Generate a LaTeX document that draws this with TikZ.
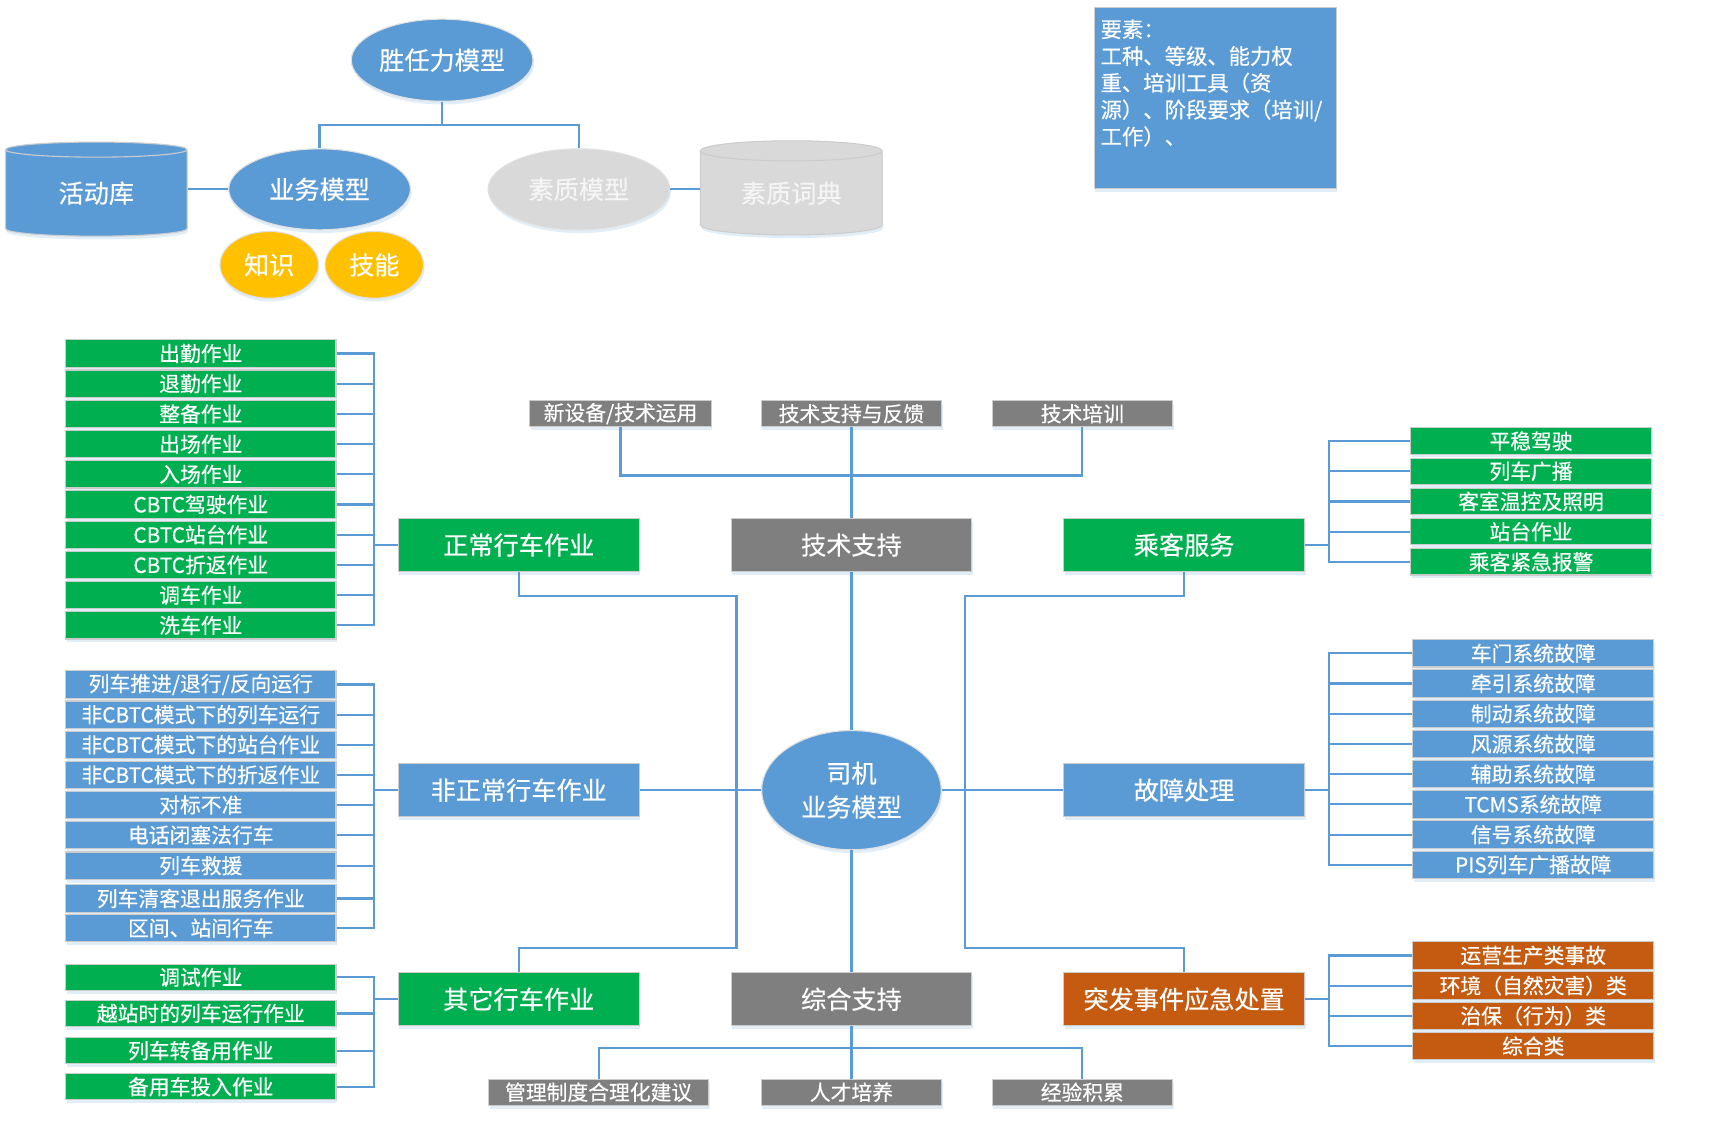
\documentclass[tikz,border=0pt]{standalone}
\usepackage{fontspec}
\setmainfont{Noto Sans CJK SC}[FakeBold=0.4]
\usetikzlibrary{shapes.geometric,shadows}
\definecolor{mblue}{HTML}{5B9BD5}
\definecolor{mgreen}{HTML}{00B050}
\definecolor{mgray}{HTML}{7F7F7F}
\definecolor{morange}{HTML}{C55A11}
\definecolor{myellow}{HTML}{FFC000}
\definecolor{mlight}{HTML}{D9D9D9}
\tikzset{
  shade/.style={drop shadow={shadow xshift=1pt,shadow yshift=-3pt,opacity=0.18,fill=mblue}},
  box/.style={draw=black!20,line width=1pt,text=white,inner sep=0pt,shade},
  item/.style={box,minimum width=247pt,minimum height=25pt,font=\fontsize{19}{19}\selectfont},
  ritem/.style={item,minimum width=220pt},
  head/.style={box,minimum width=220pt,minimum height=48pt,font=\fontsize{23}{23}\selectfont},
  tip/.style={box,fill=mgray,minimum width=165pt,minimum height=24pt,font=\fontsize{19}{19}\selectfont},
  blob/.style={ellipse,draw=black!12,line width=1pt,text=white,inner sep=0pt,shade,font=\fontsize{23}{23}\selectfont},
  drum/.style={cylinder,shape border rotate=90,aspect=0.2,draw=black!20,line width=1pt,text=white,inner sep=0pt,
    minimum height=86pt,minimum width=166pt,shade,font=\fontsize{23}{23}\selectfont},
  link/.style={draw=mblue,line width=2pt},
}
\begin{document}
\begin{tikzpicture}[x=1pt,y=-1pt]
            \useasboundingbox (0,0) rectangle (1568,1029);
            % competence model
            \node[blob,fill=mblue,minimum width=166pt,minimum height=75pt] (shengren) at (404,55) {胜任力模型};
            \node[blob,fill=mblue,minimum width=166pt,minimum height=74pt] (yewu) at (292,173) {业务模型};
            \node[blob,fill=mlight,text=white!96!black,minimum width=166pt,minimum height=74pt] (suzhi) at (529,173) {素质模型};
            \node[drum,fill=mblue] (huodong) at (88,176.5) {活动库};
            \node[drum,fill=mlight,text=white!96!black] (cidian) at (723,176.5) {素质词典};
            \node[blob,fill=myellow,minimum width=90pt,minimum height=61pt] (zhishi) at (246,242) {知识};
            \node[blob,fill=myellow,minimum width=90pt,minimum height=61pt] (jineng) at (342,242) {技能};
            \draw[link] (shengren.south) -- ++(0,21) -| (yewu.north);
            \draw[link] (shengren.south) -- ++(0,21) -| (suzhi.north);
            \draw[link] (yewu.west) -- (yewu.west -| huodong.east);
            \draw[link] (suzhi.east) -- (suzhi.east -| cidian.west);

            \node[box,fill=mblue,minimum width=221pt,minimum height=165pt] (yaosu) at (1110.5,89.5) {};
            \node[anchor=north west,text=white,align=left,inner sep=0pt,font=\fontsize{19.5}{24.5}\selectfont] (yaosutext)
                at ([shift={(6,11)}]yaosu.north west) {要素：\\工种、等级、能力权\\重、培训工具（资\\源）、阶段要求（培训/\\工作）、};

            % driver business model
            \node[head,fill=mgreen] (zhengchang) at (474,498) {正常行车作业};
            \node[head,fill=mgray] (jishu) at (778,498) {技术支持};
            \node[head,fill=mgreen] (chengke) at (1082,498) {乘客服务};
            \node[head,fill=mblue] (feizheng) at (474,722) {非正常行车作业};
            \node[blob,fill=mblue,minimum width=164pt,minimum height=109pt,align=center,font=\fontsize{23}{31}\selectfont] (siji) at (778,722) {司机\\业务模型};
            \node[head,fill=mblue] (guzhang) at (1082,722) {故障处理};
            \node[head,fill=mgreen] (qita) at (474,913) {其它行车作业};
            \node[head,fill=mgray] (zonghe) at (778,913) {综合支持};
            \node[head,fill=morange] (tufa) at (1082,913) {突发事件应急处置};

            \node[tip,minimum width=166pt] (xinshebei) at (567,378) {新设备/技术运用};
            \node[tip] (fankui) at (778,378) {技术支持与反馈};
            \node[tip] (peixun) at (989,378) {技术培训};
            \node[tip,minimum width=201pt] (guanli) at (547,998) {管理制度合理化建议};
            \node[tip] (rencai) at (778,998) {人才培养};
            \node[tip] (jingyan) at (989,998) {经验积累};

            \draw[link] (fankui.south) -- (jishu.north);
            \draw[link] (xinshebei.south) -- ++(0,44) -| (peixun.south);
            \draw[link] (zonghe.south) -- (rencai.north);
            \draw[link] (guanli.north) -- ++(0,-28) -| (jingyan.north);
            \draw[link] (siji.north) -- (jishu.south);
            \draw[link] (siji.south) -- (zonghe.north);
            \draw[link] (feizheng.east) -- (siji.west);
            \draw[link] (siji.east) -- (guzhang.west);
            \draw[link] (zhengchang.south) -- ++(0,22) -| ++(199,322) -| (qita.north);
            \draw[link] (chengke.south) -- ++(0,22) -| ++(-200,322) -| (tufa.north);

            \foreach \t [count=\i] in {出勤作业,退勤作业,整备作业,出场作业,入场作业,CBTC驾驶作业,CBTC站台作业,CBTC折返作业,调车作业,洗车作业}{
                \node[item,fill=mgreen] (zc\i) at (183.5,{323+27.6*(\i-1)}) {\t};
                \draw[link] (zc\i.east) -| ([xshift=-22pt]zhengchang.west) -- (zhengchang.west);
            }
            \foreach \y/\t [count=\i] in {625.5/{列车推进/退行/反向运行},653/非CBTC模式下的列车运行,680.5/非CBTC模式下的站台作业,708/非CBTC模式下的折返作业,735.5/对标不准,763/电话闭塞法行车,791/列车救援,821/列车清客退出服务作业,848/区间、站间行车}{
                \node[item,fill=mblue] (fz\i) at (183.5,\y) {\t};
                \draw[link] (fz\i.east) -| ([xshift=-22pt]feizheng.west) -- (feizheng.west);
            }
            \foreach \y/\t [count=\i] in {893/调试作业,926/越站时的列车运行作业,960/列车转备用作业,993/备用车投入作业}{
                \node[item,fill=mgreen,minimum height=24pt] (qt\i) at (183.5,\y) {\t};
                \draw[link] (qt\i.east) -| ([xshift=-22pt]qita.west) -- (qita.west);
            }
            \foreach \t [count=\i] in {平稳驾驶,列车广播,客室温控及照明,站台作业,乘客紧急报警}{
                \node[ritem,fill=mgreen,minimum height=24pt] (ck\i) at (1399,{403+27.6*(\i-1)}) {\t};
                \draw[link] (ck\i.west) -| ([xshift=22pt]chengke.east) -- (chengke.east);
            }
            \foreach \t [count=\i] in {车门系统故障,牵引系统故障,制动系统故障,风源系统故障,辅助系统故障,TCMS系统故障,信号系统故障,PIS列车广播故障}{
                \node[ritem,fill=mblue] (gz\i) at (1401,{597+27.6*(\i-1)}) {\t};
                \draw[link] (gz\i.west) -| ([xshift=22pt]guzhang.east) -- (guzhang.east);
            }
            \foreach \t [count=\i] in {运营生产类事故,环境（自然灾害）类,治保（行为）类,综合类}{
                \node[ritem,fill=morange] (tf\i) at (1401,{873+27.6*(\i-1)}) {\t};
                \draw[link] (tf\i.west) -| ([xshift=22pt]tufa.east) -- (tufa.east);
            }
        \end{tikzpicture}
\end{document}
